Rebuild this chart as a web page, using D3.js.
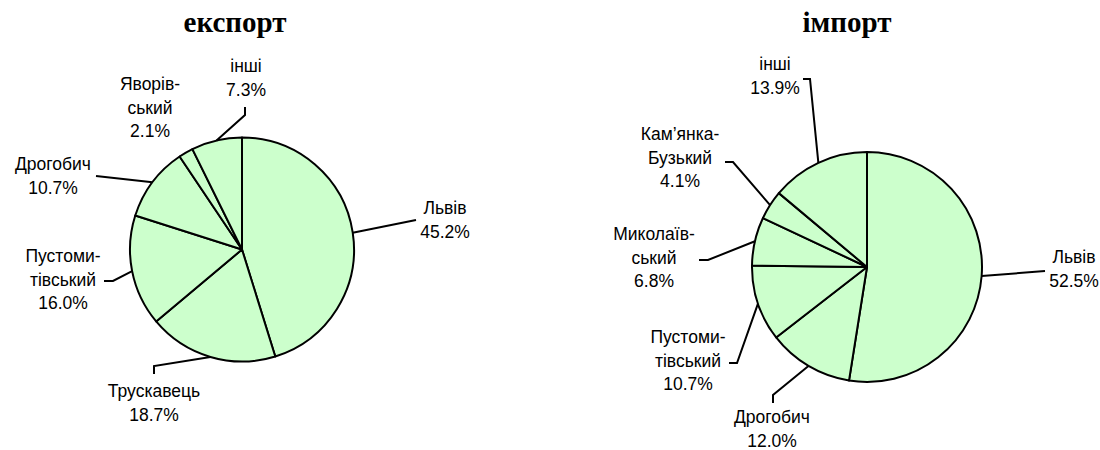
<!DOCTYPE html>
<html><head><meta charset="utf-8">
<script src="https://cdn.jsdelivr.net/npm/d3@7"></script>
<style>
body{margin:0;background:#fff;}
svg{display:block;}
</style></head>
<body>
<svg id="chart" width="1100" height="450"></svg>
<script>
// ---- data ----
const exportTitle = "експорт";
const exportCategories = [["Львів"], ["Трускавець"], ["Пустоми-", "тівський"], ["Дрогобич"], ["Яворів-", "ський"], ["інші"]];
const exportValues = [45.2, 18.7, 16.0, 10.7, 2.1, 7.3];

const importTitle = "імпорт";
const importCategories = [["Львів"], ["Дрогобич"], ["Пустоми-", "тівський"], ["Миколаїв-", "ський"], ["Кам’янка-", "Бузький"], ["інші"]];
const importValues = [52.5, 12.0, 10.7, 6.8, 4.1, 13.9];

// ---- layout (label anchors & leader bends, relative to pie centre) ----
const exportLayout = {
  cx: 242, cy: 249.5, r: 112, titleX: 235, titleY: 32,
  labels: [
    {x: 203, y: -35.5, bends: [[174, -29.5]]},
    {x: -88, y: 147.5, bends: [[-88, 116.5], [-88, 124.5]]},
    {x: -179, y: 12.5, bends: [[-129, 31.5], [-138, 31.5]]},
    {x: -189, y: -79.5, bends: [[-146, -73.5]]},
    {x: -92, y: -159.5, bends: null},
    {x: 4, y: -177.5, bends: [[3, -134.5], [3, -142.5]]}
  ]
};
const importLayout = {
  cx: 867, cy: 267, r: 115, titleX: 847, titleY: 32,
  labels: [
    {x: 207, y: -4, bends: [[178, 4]]},
    {x: -95, y: 156, bends: [[-94, 128], [-94, 136]]},
    {x: -179, y: 76, bends: [[-130, 96], [-138, 96]]},
    {x: -213, y: -27, bends: [[-159, -7], [-168, -7]]},
    {x: -187, y: -127, bends: [[-134, -105], [-142, -105]]},
    {x: -92, y: -197, bends: [[-57, -188], [-64, -188]]}
  ]
};

const svg = d3.select("#chart");
const fmt = d3.format(".1f");
const lineH = 23.5;

function drawPie(title, cats, vals, L) {
  const g = svg.append("g").attr("transform", `translate(${L.cx},${L.cy})`);
  const pie = d3.pie().sort(null).value(d => d);
  const arcs = pie(vals);
  const arc = d3.arc().innerRadius(0).outerRadius(L.r);
  g.selectAll("path.slice").data(arcs).join("path")
    .attr("class", "slice")
    .attr("d", arc)
    .attr("fill", "#ccffcc")
    .attr("stroke", "#000")
    .attr("stroke-width", 2)
    .attr("stroke-linejoin", "round");

  // leader lines
  arcs.forEach((a, i) => {
    const lab = L.labels[i];
    if (!lab.bends) return;
    const m = (a.startAngle + a.endAngle) / 2;
    const p0 = [L.r * Math.sin(m), -L.r * Math.cos(m)];
    const pts = [p0].concat(lab.bends);
    g.append("path")
      .attr("d", d3.line()(pts))
      .attr("fill", "none")
      .attr("stroke", "#000")
      .attr("stroke-width", 2);
  });

  // labels
  arcs.forEach((a, i) => {
    const lab = L.labels[i];
    const lines = cats[i].concat([fmt(vals[i]) + "%"]);
    const t = g.append("text")
      .attr("text-anchor", "middle")
      .attr("font-family", "'Liberation Sans', Arial, sans-serif")
      .attr("font-size", 17.5)
      .attr("fill", "#000");
    lines.forEach((s, k) => {
      t.append("tspan").attr("x", lab.x).attr("y", lab.y + k * lineH).text(s);
    });
  });

  svg.append("text")
    .attr("x", L.titleX).attr("y", L.titleY)
    .attr("text-anchor", "middle")
    .attr("font-family", "'Liberation Serif', 'Times New Roman', serif")
    .attr("font-weight", "bold")
    .attr("font-size", 29)
    .text(title);
}

drawPie(exportTitle, exportCategories, exportValues, exportLayout);
drawPie(importTitle, importCategories, importValues, importLayout);
</script>
</body></html>
